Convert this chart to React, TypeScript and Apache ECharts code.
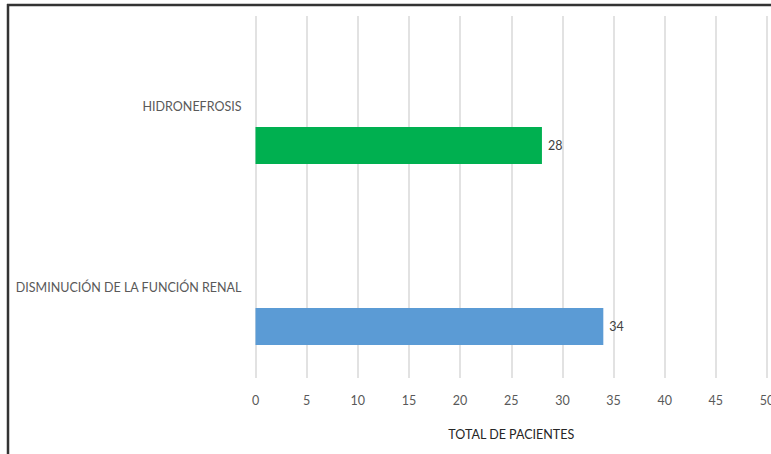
import React, { useEffect, useRef } from "react";
import * as echarts from "echarts";

// Categories ordered bottom-to-top along the category axis
const categories = ["DISMINUCIÓN DE LA FUNCIÓN RENAL", "HIDRONEFROSIS"];
const patientTotals = [34, 28];
const barColors = ["#5b9bd5", "#00b050"];
const axisTitle = "TOTAL DE PACIENTES";
const xMin = 0;
const xMax = 50;
const xStep = 5;

const FONT = "Lato, 'Open Sans', sans-serif";

export default function App() {
  const ref = useRef<HTMLDivElement>(null);

  useEffect(() => {
    if (!ref.current) return;
    const chart = echarts.init(ref.current, undefined, { renderer: "svg" });
    chart.setOption({
      animation: false,
      backgroundColor: "#ffffff",
      grid: {
        left: 255.5,
        right: 4,
        top: 16,
        bottom: 76,
        containLabel: false,
        outerBoundsMode: "none",
      },
      xAxis: {
        type: "value",
        min: xMin,
        max: xMax,
        interval: xStep,
        name: axisTitle,
        nameLocation: "middle",
        nameGap: 50,
        nameTextStyle: { fontFamily: FONT, fontSize: 12.5, color: "#262626" },
        axisLine: { show: false },
        axisTick: { show: false },
        axisLabel: { fontFamily: FONT, fontSize: 12.5, color: "#595959", margin: 16 },
        splitLine: { show: true, lineStyle: { color: "#d9d9d9", width: 1.5 } },
      },
      yAxis: {
        type: "category",
        data: categories,
        axisLine: { show: false },
        axisTick: { show: false },
        axisLabel: { fontFamily: FONT, fontSize: 12.5, color: "#595959", margin: 14 },
        splitLine: { show: false },
      },
      series: [
        {
          name: "placeholder",
          type: "bar",
          barWidth: 37,
          barGap: "110.8%",
          data: [null, null],
        },
        {
          name: axisTitle,
          type: "bar",
          barWidth: 37,
          barGap: "110.8%",
          data: patientTotals.map((v, i) => ({ value: v, itemStyle: { color: barColors[i] } })),
          label: {
            show: true,
            position: "right",
            distance: 6,
            fontFamily: FONT,
            fontSize: 12.5,
            color: "#404040",
          },
        },
      ],
      graphic: [
        {
          type: "line",
          shape: { x1: 7, y1: 5, x2: 771, y2: 5 },
          style: { stroke: "#333333", lineWidth: 2.5 },
        },
        {
          type: "line",
          shape: { x1: 8, y1: 4, x2: 8, y2: 454 },
          style: { stroke: "#333333", lineWidth: 2.5 },
        },
      ],
    });
    return () => chart.dispose();
  }, []);

  return (
    <div
      ref={ref}
      style={{ position: "absolute", left: 0, top: 0, width: 771, height: 454 }}
    />
  );
}
